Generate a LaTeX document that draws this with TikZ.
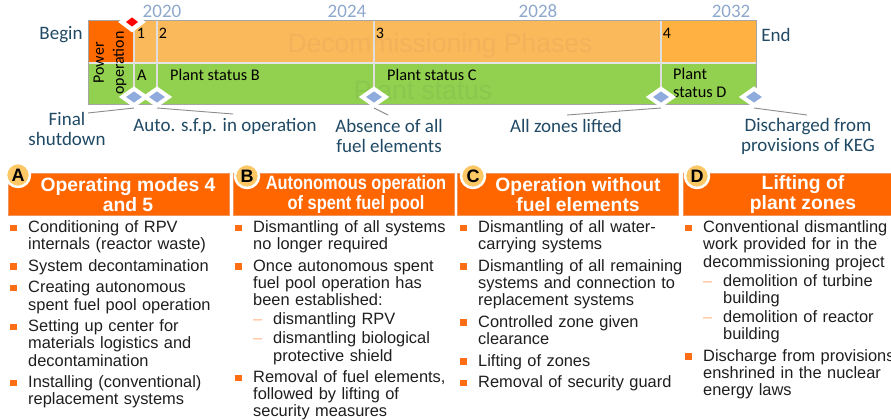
\documentclass[tikz,border=0pt]{standalone}
\usepackage{fontspec}
\setmainfont{Liberation Sans}
\newfontfamily\carlito{Carlito}
\usetikzlibrary{shapes.geometric, positioning}

\definecolor{hdrorange}{RGB}{255,102,0}
\definecolor{hdredge}{RGB}{240,150,90}
\definecolor{poweror}{RGB}{255,106,0}
\definecolor{phaseor}{RGB}{250,186,92}
\definecolor{endor}{RGB}{255,178,66}
\definecolor{statgreen}{RGB}{146,208,80}
\definecolor{phasewm}{RGB}{243,177,90}
\definecolor{greenwm}{RGB}{138,199,78}
\definecolor{msblue}{RGB}{143,170,220}
\definecolor{labelblue}{RGB}{31,73,100}
\definecolor{yearblue}{RGB}{141,168,204}
\definecolor{badgeyel}{RGB}{252,200,102}
\definecolor{bulletor}{RGB}{255,110,20}
\definecolor{dashor}{RGB}{255,180,130}
\definecolor{bodytext}{RGB}{30,30,30}

% list items with hanging indent
\newcommand{\sqitem}{\par\hangindent=18pt\hangafter=1\noindent
  \makebox[18pt][l]{\textcolor{bulletor}{\rule[1.5pt]{6.5pt}{6.5pt}}}}
\newcommand{\dashitem}{\par\vspace{-2.5pt}\hangindent=38pt\hangafter=1\noindent
  \hspace*{18pt}\makebox[20pt][l]{\textcolor{dashor}{\textendash}}}

\begin{document}
\begin{tikzpicture}[x=1pt, y=-1pt, font=\carlito]

\useasboundingbox (0,0) rectangle (891,420);
\clip (0,0) rectangle (891,420);

\tikzset{
  milestone/.style={diamond, draw=white, line width=4pt, fill=msblue,
                    inner sep=0pt, minimum width=25pt, minimum height=18pt},
  tllabel/.style={text=labelblue, font=\carlito\fontsize{19}{20}\selectfont,
                  align=center, inner sep=0pt},
  year/.style={text=yearblue, font=\carlito\fontsize{19}{20}\selectfont, inner sep=0pt},
  phasenum/.style={font=\carlito\fontsize{16}{18}\selectfont, inner sep=0pt},
  statlabel/.style={anchor=west, font=\carlito\fontsize{16.3}{17.5}\selectfont,
                    align=left, inner sep=0pt},
  watermark/.style={font=\fontsize{26.5}{28}\selectfont, inner sep=0pt},
  callout/.style={draw=gray!90, line width=0.9pt},
  divider/.style={draw=gray!25, line width=1.8pt},
  hdrbox/.style={rectangle, fill=hdrorange, draw=hdredge, line width=0.8pt,
                 minimum width=221pt, minimum height=42pt, inner sep=0pt},
  hdrtext/.style={text=white, font=\bfseries\fontsize{19.3}{20}\selectfont,
                  align=center, inner sep=0pt},
  badge/.style={circle, fill=badgeyel, draw=white, line width=2.5pt,
                minimum size=24pt, inner sep=0pt, font=\bfseries\fontsize{18}{18}\selectfont},
  itemlist/.style={anchor=north west, text width=260pt, align=left, inner sep=0pt,
                   text=bodytext, font=\fontsize{16.4}{17.2}\selectfont}
}

% timeline bar
\fill[phaseor] (88,21) rectangle (756,63);
\fill[endor] (661,21) rectangle (756,63);
\fill[poweror] (88,21) rectangle (134,63);
\fill[statgreen] (88,63) rectangle (756,104);
\node[watermark, text=phasewm] (phasewm) at (440,46) {Decommissioning Phases};
\node[watermark, text=greenwm] (statwm) at (423,90) {Plant status};
\draw[gray!20, line width=1.5pt] (88,63) -- (756,63);
\draw[gray!70, line width=1pt] (88,21) rectangle (756,104);
\foreach \x in {134,157,374,661}
  \draw[divider] (\x,21) -- (\x,97);

\node[rotate=90, align=center, inner sep=0pt,
      font=\carlito\fontsize{16}{20}\selectfont] (power) at (110,63) {Power\\operation};

\node[phasenum] (ph1) at (141,33) {1};
\node[phasenum] (ph2) at (163,33) {2};
\node[phasenum] (ph3) at (380,33) {3};
\node[phasenum] (ph4) at (667,33) {4};

\node[statlabel] (stA) at (137,75) {A};
\node[statlabel] (stB) at (170,75) {Plant status B};
\node[statlabel] (stC) at (387,75) {Plant status C};
\node[statlabel] (stD) at (673,83) {Plant\\status D};

\node[year] (y2020) at (162,11) {2020};
\node[year] (y2024) at (347,11) {2024};
\node[year] (y2028) at (538,11) {2028};
\node[year] (y2032) at (731,11) {2032};

\node[tllabel] (begin) at (61,35) {Begin};
\node[tllabel] (end) at (776,35) {End};

% milestones
\node[milestone, fill=red, line width=4.5pt, minimum width=22pt, minimum height=17pt] (start) at (132,22) {};
\node[milestone] (ms1) at (134,97) {};
\node[milestone] (ms2) at (157,97) {};
\node[milestone] (ms3) at (374,97) {};
\node[milestone] (ms4) at (661,97) {};
\node[milestone] (ms5) at (754,97) {};

\node[tllabel] (final) at (67,129) {Final\\shutdown};
\node[tllabel] (sfp) at (225,126) {Auto. s.f.p. in operation};
\node[tllabel] (nofuel) at (389,136) {Absence of all\\fuel elements};
\node[tllabel] (lifted) at (566,126) {All zones lifted};
\node[tllabel] (keg) at (808,136) {Discharged from\\provisions of KEG};

\coordinate (finalend) at (88,113);
\coordinate (sfpend) at (233,114);
\coordinate (nofuelend) at (388,115);
\coordinate (liftedend) at (567,115);
\coordinate (kegend) at (807,115);

\draw[callout] (ms1.south) -- (finalend);
\draw[callout] (ms2.south) -- (sfpend);
\draw[callout] (ms3.south) -- (nofuelend);
\draw[callout] (ms4.south) -- (liftedend);
\draw[callout] (ms5.south) -- (kegend);

% plant status columns
\node[hdrbox] (hdrA) at (118.5,194) {};
\node[hdrbox] (hdrB) at (343.5,194) {};
\node[hdrbox] (hdrC) at (568,194) {};
\node[hdrbox] (hdrD) at (793.5,194) {};

\node[badge] (badgeA) at (18,175) {A};
\node[badge] (badgeB) at (247,176) {B};
\node[badge] (badgeC) at (473,176) {C};
\node[badge] (badgeD) at (697,176) {D};

\node[hdrtext] (titleA) at (128,195) {Operating modes 4\\and 5};
\node[hdrtext] (titleB) at (356,195) {\scalebox{0.85}[1]{Autonomous operation}\\\scalebox{0.85}[1]{of spent fuel pool}};
\node[hdrtext] (titleC) at (578,195) {Operation without\\fuel elements};
\node[hdrtext] (titleD) at (803,195) {Lifting of\\plant zones};

\node[itemlist] (listA) at (10,211) {\setlength{\parskip}{4.3pt}%
  \sqitem Conditioning of RPV\newline internals (reactor waste)
  \sqitem System decontamination
  \sqitem Creating autonomous\newline spent fuel pool operation
  \sqitem Setting up center for\newline materials logistics and\newline decontamination
  \sqitem Installing (conventional)\newline replacement systems\par};

\node[itemlist] (listB) at (235,211) {\setlength{\parskip}{4.3pt}%
  \sqitem Dismantling of all systems\newline no longer required
  \sqitem Once autonomous spent\newline fuel pool operation has\newline been established:
  \dashitem dismantling RPV
  \dashitem dismantling biological\newline protective shield
  \sqitem Removal of fuel elements,\newline followed by lifting of\newline security measures\par};

\node[itemlist] (listC) at (460,211) {\setlength{\parskip}{4.3pt}%
  \sqitem Dismantling of all water-\newline carrying systems
  \sqitem Dismantling of all remaining\newline systems and connection to\newline replacement systems
  \sqitem Controlled zone given\newline clearance
  \sqitem Lifting of zones
  \sqitem Removal of security guard\par};

\node[itemlist] (listD) at (685,211) {\setlength{\parskip}{4.3pt}%
  \sqitem Conventional dismantling\newline work provided for in the\newline decommissioning project
  \dashitem demolition of turbine\newline building
  \dashitem demolition of reactor\newline building
  \sqitem Discharge from provisions\newline enshrined in the nuclear\newline energy laws\par};

\end{tikzpicture}
\end{document}
